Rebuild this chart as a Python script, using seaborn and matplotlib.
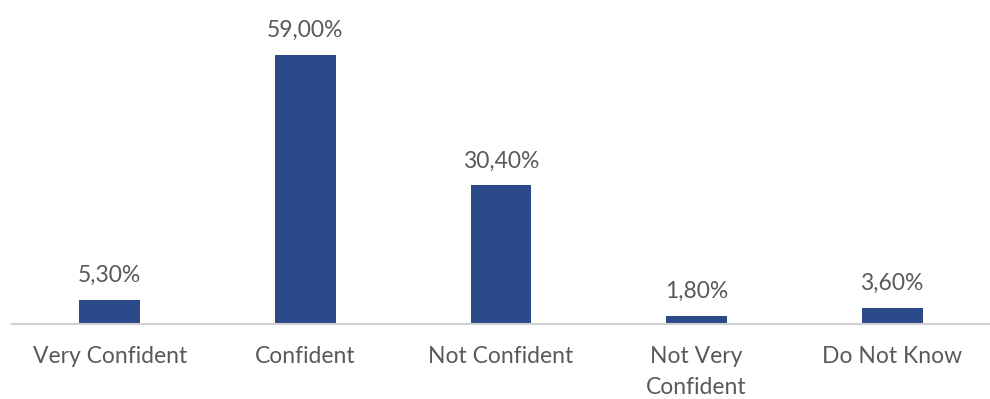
import matplotlib
matplotlib.use("Agg")
import matplotlib.pyplot as plt
import seaborn as sns
import pandas as pd

categories = ["Very Confident", "Confident", "Not Confident", "Not Very\nConfident", "Do Not Know"]
values = [5.30, 59.00, 30.40, 1.80, 3.60]
value_labels = ["5,30%", "59,00%", "30,40%", "1,80%", "3,60%"]

sns.set_theme(style="white")
plt.rcParams['font.family'] = ['Lato', 'DejaVu Sans']

df = pd.DataFrame({"cat": categories, "val": values})

fig = plt.figure(figsize=(9.9, 3.99), dpi=100)
ax = fig.add_axes([0.012, 0.188, 0.988, 0.812])
sns.barplot(data=df, x="cat", y="val", color="#2a4a8a", saturation=1, width=0.31,
            linewidth=0, ax=ax)
ax.set_ylim(0, 71)
ax.set_xlim(-0.5, 4.5)
for i, (v, lab) in enumerate(zip(values, value_labels)):
    ax.annotate(lab, (i, v), xytext=(0, 10), textcoords="offset points",
                ha="center", va="bottom", fontsize=16.5, color="#595959")
ax.set_xlabel("")
ax.set_ylabel("")
ax.set_yticks([])
for s in ["top", "right", "left"]:
    ax.spines[s].set_visible(False)
ax.spines["bottom"].set_color("#d0d0d0")
ax.spines["bottom"].set_linewidth(1.5)
ax.tick_params(axis="x", length=0, pad=16, labelsize=16.5, labelcolor="#595959")
for t in ax.get_xticklabels():
    t.set_linespacing(1.55)
fig.savefig("out.png", dpi=100)
